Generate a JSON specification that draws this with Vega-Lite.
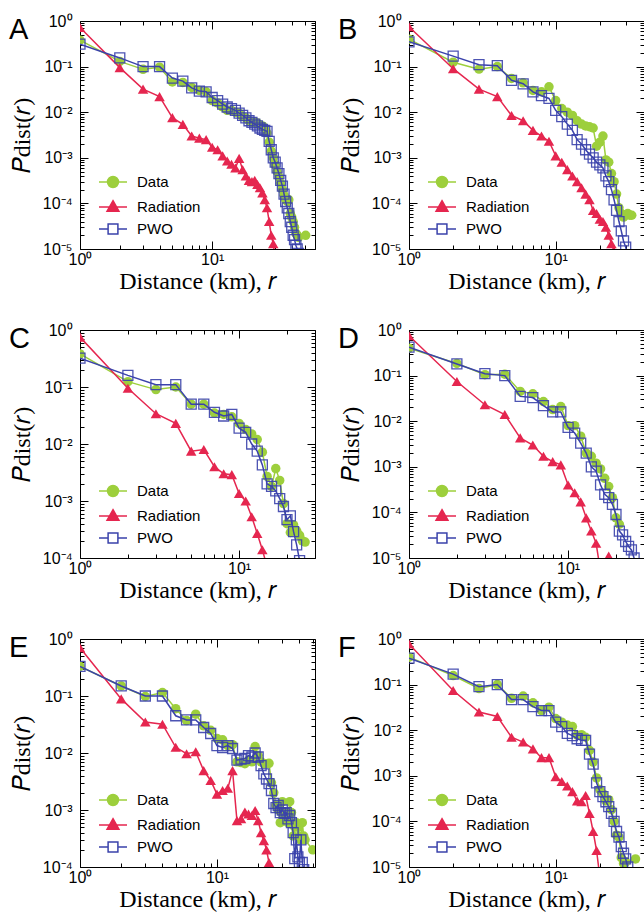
{
"$schema": "https://vega.github.io/schema/vega-lite/v6.json",
"background": "white",
"padding": {"left": 8, "top": 12, "right": 0, "bottom": 0},
"config": {
 "view": {"stroke": "black", "strokeWidth": 1},
 "axis": {"domain": false, "grid": false, "tickColor": "black", "tickWidth": 1, "labelColor": "black", "labelFont": "Liberation Sans", "labelFontSize": 16, "titleFont": "Liberation Serif", "titleFontSize": 24, "titleFontWeight": "normal", "titleColor": "black", "labelOverlap": false, "labelFlush": false, "labelBound": false},
 "title": {"font": "Liberation Sans", "fontSize": 29, "fontWeight": "normal", "color": "black", "anchor": "start", "frame": "group", "dx": -71, "dy": 36, "baseline": "alphabetic"},
 "legend": {"orient": "bottom-left", "title": null, "offset": 12, "padding": 0, "labelFont": "Liberation Sans", "labelFontSize": 15, "labelColor": "black", "symbolSize": 196, "labelOffset": 16, "symbolOffset": 13, "rowPadding": 6, "symbolOpacity": 1}
},
"datasets": {
 "A": [
  {"r":1,"p":0.38,"s":"Data"},{"r":2,"p":0.13,"s":"Data"},{"r":3,"p":0.087,"s":"Data"},{"r":4,"p":0.097,"s":"Data"},{"r":5,"p":0.046,"s":"Data"},{"r":6,"p":0.045,"s":"Data"},{"r":7,"p":0.035,"s":"Data"},{"r":8,"p":0.03,"s":"Data"},{"r":9,"p":0.028,"s":"Data"},{"r":10,"p":0.018,"s":"Data"},{"r":11,"p":0.016,"s":"Data"},{"r":12,"p":0.013,"s":"Data"},{"r":13,"p":0.011,"s":"Data"},{"r":14,"p":0.011,"s":"Data"},{"r":15,"p":0.01,"s":"Data"},{"r":16,"p":0.0095,"s":"Data"},{"r":17,"p":0.008,"s":"Data"},{"r":18,"p":0.0075,"s":"Data"},{"r":19,"p":0.0065,"s":"Data"},{"r":20,"p":0.006,"s":"Data"},{"r":21,"p":0.006,"s":"Data"},{"r":22,"p":0.0058,"s":"Data"},{"r":23,"p":0.0052,"s":"Data"},{"r":24,"p":0.005,"s":"Data"},{"r":25,"p":0.0045,"s":"Data"},{"r":26,"p":0.0035,"s":"Data"},{"r":27,"p":0.0022,"s":"Data"},{"r":28,"p":0.0014,"s":"Data"},{"r":29,"p":0.001,"s":"Data"},{"r":30,"p":0.0007,"s":"Data"},{"r":31,"p":0.0005,"s":"Data"},{"r":32,"p":0.00038,"s":"Data"},{"r":33,"p":0.00028,"s":"Data"},{"r":34,"p":0.0002,"s":"Data"},{"r":35,"p":0.00015,"s":"Data"},{"r":36,"p":0.00012,"s":"Data"},{"r":37,"p":0.00011,"s":"Data"},{"r":38,"p":0.00012,"s":"Data"},{"r":39,"p":0.00006,"s":"Data"},{"r":40,"p":0.00005,"s":"Data"},{"r":41,"p":0.00004,"s":"Data"},{"r":42,"p":0.00003,"s":"Data"},{"r":43,"p":0.000022,"s":"Data"},{"r":44,"p":0.00002,"s":"Data"},{"r":45,"p":0.000018,"s":"Data"},{"r":51,"p":0.00002,"s":"Data"},
  {"r":1,"p":0.72,"s":"Radiation"},{"r":2,"p":0.095,"s":"Radiation"},{"r":3,"p":0.032,"s":"Radiation"},{"r":4,"p":0.022,"s":"Radiation"},{"r":5,"p":0.0076,"s":"Radiation"},{"r":6,"p":0.0054,"s":"Radiation"},{"r":7,"p":0.003,"s":"Radiation"},{"r":8,"p":0.0027,"s":"Radiation"},{"r":9,"p":0.0025,"s":"Radiation"},{"r":10,"p":0.0017,"s":"Radiation"},{"r":11,"p":0.0015,"s":"Radiation"},{"r":12,"p":0.0011,"s":"Radiation"},{"r":13,"p":0.00085,"s":"Radiation"},{"r":14,"p":0.00072,"s":"Radiation"},{"r":15,"p":0.0006,"s":"Radiation"},{"r":16,"p":0.00097,"s":"Radiation"},{"r":17,"p":0.00055,"s":"Radiation"},{"r":18,"p":0.0004,"s":"Radiation"},{"r":19,"p":0.00032,"s":"Radiation"},{"r":20,"p":0.0003,"s":"Radiation"},{"r":21,"p":0.00032,"s":"Radiation"},{"r":22,"p":0.00026,"s":"Radiation"},{"r":23,"p":0.00022,"s":"Radiation"},{"r":24,"p":0.00017,"s":"Radiation"},{"r":25,"p":0.00012,"s":"Radiation"},{"r":26,"p":0.00008,"s":"Radiation"},{"r":27,"p":0.00004,"s":"Radiation"},{"r":28,"p":0.00002,"s":"Radiation"},{"r":29,"p":0.000013,"s":"Radiation"},{"r":30,"p":0.000006,"s":"Radiation"},
  {"r":1,"p":0.31,"s":"PWO"},{"r":2,"p":0.155,"s":"PWO"},{"r":3,"p":0.1,"s":"PWO"},{"r":4,"p":0.1,"s":"PWO"},{"r":5,"p":0.056,"s":"PWO"},{"r":6,"p":0.048,"s":"PWO"},{"r":7,"p":0.034,"s":"PWO"},{"r":8,"p":0.029,"s":"PWO"},{"r":9,"p":0.028,"s":"PWO"},{"r":10,"p":0.021,"s":"PWO"},{"r":11,"p":0.018,"s":"PWO"},{"r":12,"p":0.015,"s":"PWO"},{"r":13,"p":0.013,"s":"PWO"},{"r":14,"p":0.012,"s":"PWO"},{"r":15,"p":0.011,"s":"PWO"},{"r":16,"p":0.0095,"s":"PWO"},{"r":17,"p":0.0085,"s":"PWO"},{"r":18,"p":0.0075,"s":"PWO"},{"r":19,"p":0.0065,"s":"PWO"},{"r":20,"p":0.006,"s":"PWO"},{"r":21,"p":0.0055,"s":"PWO"},{"r":22,"p":0.005,"s":"PWO"},{"r":23,"p":0.0045,"s":"PWO"},{"r":24,"p":0.0042,"s":"PWO"},{"r":25,"p":0.004,"s":"PWO"},{"r":26,"p":0.0038,"s":"PWO"},{"r":27,"p":0.0023,"s":"PWO"},{"r":28,"p":0.0015,"s":"PWO"},{"r":29,"p":0.001,"s":"PWO"},{"r":30,"p":0.0008,"s":"PWO"},{"r":31,"p":0.0006,"s":"PWO"},{"r":32,"p":0.00045,"s":"PWO"},{"r":33,"p":0.00032,"s":"PWO"},{"r":34,"p":0.00024,"s":"PWO"},{"r":35,"p":0.00016,"s":"PWO"},{"r":36,"p":0.00011,"s":"PWO"},{"r":37,"p":0.00008,"s":"PWO"},{"r":38,"p":0.00006,"s":"PWO"},{"r":39,"p":0.00004,"s":"PWO"},{"r":40,"p":0.00003,"s":"PWO"},{"r":41,"p":0.00002,"s":"PWO"},{"r":42,"p":0.000016,"s":"PWO"},{"r":43,"p":0.000012,"s":"PWO"},{"r":44,"p":0.00001,"s":"PWO"},{"r":45,"p":0.000008,"s":"PWO"}
 ],
 "B": [
  {"r":1,"p":0.4,"s":"Data"},{"r":2,"p":0.125,"s":"Data"},{"r":3,"p":0.088,"s":"Data"},{"r":4,"p":0.1,"s":"Data"},{"r":5,"p":0.055,"s":"Data"},{"r":6,"p":0.044,"s":"Data"},{"r":7,"p":0.03,"s":"Data"},{"r":8,"p":0.028,"s":"Data"},{"r":9,"p":0.036,"s":"Data"},{"r":10,"p":0.018,"s":"Data"},{"r":11,"p":0.012,"s":"Data"},{"r":12,"p":0.01,"s":"Data"},{"r":13,"p":0.0085,"s":"Data"},{"r":14,"p":0.0065,"s":"Data"},{"r":15,"p":0.0055,"s":"Data"},{"r":16,"p":0.005,"s":"Data"},{"r":17,"p":0.0048,"s":"Data"},{"r":18,"p":0.0045,"s":"Data"},{"r":19,"p":0.0018,"s":"Data"},{"r":20,"p":0.0022,"s":"Data"},{"r":21,"p":0.003,"s":"Data"},{"r":22,"p":0.0009,"s":"Data"},{"r":23,"p":0.0008,"s":"Data"},{"r":24,"p":0.00045,"s":"Data"},{"r":25,"p":0.0003,"s":"Data"},{"r":26,"p":0.00016,"s":"Data"},{"r":27,"p":0.00008,"s":"Data"},{"r":28,"p":0.00006,"s":"Data"},{"r":29,"p":0.00005,"s":"Data"},{"r":30,"p":0.000055,"s":"Data"},{"r":31,"p":0.00006,"s":"Data"},{"r":32,"p":0.000055,"s":"Data"},{"r":33,"p":0.000055,"s":"Data"},
  {"r":1,"p":0.75,"s":"Radiation"},{"r":2,"p":0.09,"s":"Radiation"},{"r":3,"p":0.032,"s":"Radiation"},{"r":4,"p":0.022,"s":"Radiation"},{"r":5,"p":0.0085,"s":"Radiation"},{"r":6,"p":0.0065,"s":"Radiation"},{"r":7,"p":0.004,"s":"Radiation"},{"r":8,"p":0.003,"s":"Radiation"},{"r":9,"p":0.0023,"s":"Radiation"},{"r":10,"p":0.0011,"s":"Radiation"},{"r":11,"p":0.0008,"s":"Radiation"},{"r":12,"p":0.00055,"s":"Radiation"},{"r":13,"p":0.0004,"s":"Radiation"},{"r":14,"p":0.0003,"s":"Radiation"},{"r":15,"p":0.00022,"s":"Radiation"},{"r":16,"p":0.00016,"s":"Radiation"},{"r":17,"p":0.00012,"s":"Radiation"},{"r":18,"p":0.00007,"s":"Radiation"},{"r":19,"p":0.00006,"s":"Radiation"},{"r":20,"p":0.000045,"s":"Radiation"},{"r":21,"p":0.00004,"s":"Radiation"},{"r":22,"p":0.00003,"s":"Radiation"},{"r":23,"p":0.00002,"s":"Radiation"},{"r":24,"p":0.000013,"s":"Radiation"},{"r":25,"p":0.000009,"s":"Radiation"},
  {"r":1,"p":0.35,"s":"PWO"},{"r":2,"p":0.17,"s":"PWO"},{"r":3,"p":0.11,"s":"PWO"},{"r":4,"p":0.105,"s":"PWO"},{"r":5,"p":0.05,"s":"PWO"},{"r":6,"p":0.042,"s":"PWO"},{"r":7,"p":0.028,"s":"PWO"},{"r":8,"p":0.023,"s":"PWO"},{"r":9,"p":0.02,"s":"PWO"},{"r":10,"p":0.011,"s":"PWO"},{"r":11,"p":0.008,"s":"PWO"},{"r":12,"p":0.0055,"s":"PWO"},{"r":13,"p":0.004,"s":"PWO"},{"r":14,"p":0.0025,"s":"PWO"},{"r":15,"p":0.002,"s":"PWO"},{"r":16,"p":0.0015,"s":"PWO"},{"r":17,"p":0.0012,"s":"PWO"},{"r":18,"p":0.001,"s":"PWO"},{"r":19,"p":0.0008,"s":"PWO"},{"r":20,"p":0.0007,"s":"PWO"},{"r":21,"p":0.0006,"s":"PWO"},{"r":22,"p":0.0004,"s":"PWO"},{"r":23,"p":0.0003,"s":"PWO"},{"r":24,"p":0.0002,"s":"PWO"},{"r":25,"p":0.00012,"s":"PWO"},{"r":26,"p":0.00007,"s":"PWO"},{"r":27,"p":0.00004,"s":"PWO"},{"r":28,"p":0.000025,"s":"PWO"},{"r":29,"p":0.000015,"s":"PWO"},{"r":30,"p":0.000011,"s":"PWO"},{"r":31,"p":0.000007,"s":"PWO"}
 ],
 "C": [
  {"r":1,"p":0.38,"s":"Data"},{"r":2,"p":0.124,"s":"Data"},{"r":3,"p":0.09,"s":"Data"},{"r":4,"p":0.1,"s":"Data"},{"r":5,"p":0.05,"s":"Data"},{"r":6,"p":0.05,"s":"Data"},{"r":7,"p":0.035,"s":"Data"},{"r":8,"p":0.033,"s":"Data"},{"r":9,"p":0.03,"s":"Data"},{"r":10,"p":0.023,"s":"Data"},{"r":11,"p":0.018,"s":"Data"},{"r":12,"p":0.015,"s":"Data"},{"r":13,"p":0.012,"s":"Data"},{"r":14,"p":0.0072,"s":"Data"},{"r":15,"p":0.0027,"s":"Data"},{"r":16,"p":0.0018,"s":"Data"},{"r":17,"p":0.0037,"s":"Data"},{"r":18,"p":0.0023,"s":"Data"},{"r":19,"p":0.0009,"s":"Data"},{"r":20,"p":0.0004,"s":"Data"},{"r":21,"p":0.00028,"s":"Data"},{"r":22,"p":0.00038,"s":"Data"},{"r":23,"p":0.0003,"s":"Data"},{"r":24,"p":0.00025,"s":"Data"},{"r":25,"p":0.0002,"s":"Data"},{"r":26,"p":0.00019,"s":"Data"},
  {"r":1,"p":0.75,"s":"Radiation"},{"r":2,"p":0.095,"s":"Radiation"},{"r":3,"p":0.034,"s":"Radiation"},{"r":4,"p":0.023,"s":"Radiation"},{"r":5,"p":0.0075,"s":"Radiation"},{"r":6,"p":0.008,"s":"Radiation"},{"r":7,"p":0.004,"s":"Radiation"},{"r":8,"p":0.003,"s":"Radiation"},{"r":9,"p":0.0029,"s":"Radiation"},{"r":10,"p":0.00135,"s":"Radiation"},{"r":11,"p":0.001,"s":"Radiation"},{"r":12,"p":0.00053,"s":"Radiation"},{"r":13,"p":0.00027,"s":"Radiation"},{"r":14,"p":0.00014,"s":"Radiation"},{"r":15,"p":0.00007,"s":"Radiation"},
  {"r":1,"p":0.32,"s":"PWO"},{"r":2,"p":0.16,"s":"PWO"},{"r":3,"p":0.11,"s":"PWO"},{"r":4,"p":0.11,"s":"PWO"},{"r":5,"p":0.05,"s":"PWO"},{"r":6,"p":0.05,"s":"PWO"},{"r":7,"p":0.036,"s":"PWO"},{"r":8,"p":0.031,"s":"PWO"},{"r":9,"p":0.033,"s":"PWO"},{"r":10,"p":0.019,"s":"PWO"},{"r":11,"p":0.016,"s":"PWO"},{"r":12,"p":0.01,"s":"PWO"},{"r":13,"p":0.0075,"s":"PWO"},{"r":14,"p":0.0043,"s":"PWO"},{"r":15,"p":0.002,"s":"PWO"},{"r":16,"p":0.0018,"s":"PWO"},{"r":17,"p":0.0015,"s":"PWO"},{"r":18,"p":0.0011,"s":"PWO"},{"r":19,"p":0.0008,"s":"PWO"},{"r":20,"p":0.00047,"s":"PWO"},{"r":21,"p":0.00055,"s":"PWO"},{"r":22,"p":0.00029,"s":"PWO"},{"r":23,"p":0.00017,"s":"PWO"},{"r":24,"p":0.00009,"s":"PWO"}
 ],
 "D": [
  {"r":1,"p":0.4,"s":"Data"},{"r":2,"p":0.185,"s":"Data"},{"r":3,"p":0.105,"s":"Data"},{"r":4,"p":0.107,"s":"Data"},{"r":5,"p":0.045,"s":"Data"},{"r":6,"p":0.04,"s":"Data"},{"r":7,"p":0.027,"s":"Data"},{"r":8,"p":0.018,"s":"Data"},{"r":9,"p":0.021,"s":"Data"},{"r":10,"p":0.008,"s":"Data"},{"r":11,"p":0.008,"s":"Data"},{"r":12,"p":0.0047,"s":"Data"},{"r":13,"p":0.002,"s":"Data"},{"r":14,"p":0.0017,"s":"Data"},{"r":15,"p":0.0012,"s":"Data"},{"r":16,"p":0.0009,"s":"Data"},{"r":17,"p":0.00056,"s":"Data"},{"r":18,"p":0.00037,"s":"Data"},{"r":19,"p":0.00021,"s":"Data"},{"r":20,"p":0.000076,"s":"Data"},{"r":21,"p":0.000055,"s":"Data"},
  {"r":1,"p":0.75,"s":"Radiation"},{"r":2,"p":0.074,"s":"Radiation"},{"r":3,"p":0.023,"s":"Radiation"},{"r":4,"p":0.014,"s":"Radiation"},{"r":5,"p":0.0043,"s":"Radiation"},{"r":6,"p":0.003,"s":"Radiation"},{"r":7,"p":0.0017,"s":"Radiation"},{"r":8,"p":0.0013,"s":"Radiation"},{"r":9,"p":0.0011,"s":"Radiation"},{"r":10,"p":0.0004,"s":"Radiation"},{"r":11,"p":0.00027,"s":"Radiation"},{"r":12,"p":0.00017,"s":"Radiation"},{"r":13,"p":0.000076,"s":"Radiation"},{"r":14,"p":0.000039,"s":"Radiation"},{"r":15,"p":0.000021,"s":"Radiation"},{"r":16,"p":0.000005,"s":"Radiation"},{"r":18,"p":0.000011,"s":"Radiation"},
  {"r":1,"p":0.42,"s":"PWO"},{"r":2,"p":0.18,"s":"PWO"},{"r":3,"p":0.11,"s":"PWO"},{"r":4,"p":0.1,"s":"PWO"},{"r":5,"p":0.035,"s":"PWO"},{"r":6,"p":0.033,"s":"PWO"},{"r":7,"p":0.022,"s":"PWO"},{"r":8,"p":0.016,"s":"PWO"},{"r":9,"p":0.016,"s":"PWO"},{"r":10,"p":0.0073,"s":"PWO"},{"r":11,"p":0.0055,"s":"PWO"},{"r":12,"p":0.0033,"s":"PWO"},{"r":13,"p":0.002,"s":"PWO"},{"r":14,"p":0.001,"s":"PWO"},{"r":15,"p":0.0008,"s":"PWO"},{"r":16,"p":0.0004,"s":"PWO"},{"r":17,"p":0.00025,"s":"PWO"},{"r":18,"p":0.00021,"s":"PWO"},{"r":19,"p":0.00015,"s":"PWO"},{"r":20,"p":0.00009,"s":"PWO"},{"r":21,"p":0.000039,"s":"PWO"},{"r":22,"p":0.000032,"s":"PWO"},{"r":23,"p":0.000023,"s":"PWO"},{"r":24,"p":0.000018,"s":"PWO"},{"r":25,"p":0.000015,"s":"PWO"},{"r":26,"p":0.00001,"s":"PWO"}
 ],
 "E": [
  {"r":1,"p":0.33,"s":"Data"},{"r":2,"p":0.15,"s":"Data"},{"r":3,"p":0.098,"s":"Data"},{"r":4,"p":0.115,"s":"Data"},{"r":5,"p":0.06,"s":"Data"},{"r":6,"p":0.037,"s":"Data"},{"r":7,"p":0.048,"s":"Data"},{"r":8,"p":0.03,"s":"Data"},{"r":9,"p":0.025,"s":"Data"},{"r":10,"p":0.018,"s":"Data"},{"r":11,"p":0.017,"s":"Data"},{"r":12,"p":0.0135,"s":"Data"},{"r":13,"p":0.014,"s":"Data"},{"r":14,"p":0.007,"s":"Data"},{"r":15,"p":0.0068,"s":"Data"},{"r":16,"p":0.0065,"s":"Data"},{"r":17,"p":0.0075,"s":"Data"},{"r":18,"p":0.007,"s":"Data"},{"r":19,"p":0.013,"s":"Data"},{"r":20,"p":0.009,"s":"Data"},{"r":21,"p":0.007,"s":"Data"},{"r":22,"p":0.0065,"s":"Data"},{"r":23,"p":0.0065,"s":"Data"},{"r":24,"p":0.0066,"s":"Data"},{"r":25,"p":0.003,"s":"Data"},{"r":26,"p":0.002,"s":"Data"},{"r":27,"p":0.0012,"s":"Data"},{"r":28,"p":0.001,"s":"Data"},{"r":29,"p":0.0006,"s":"Data"},{"r":30,"p":0.0014,"s":"Data"},{"r":31,"p":0.0009,"s":"Data"},{"r":32,"p":0.0008,"s":"Data"},{"r":33,"p":0.0006,"s":"Data"},{"r":34,"p":0.0014,"s":"Data"},{"r":35,"p":0.0009,"s":"Data"},{"r":36,"p":0.00035,"s":"Data"},{"r":37,"p":0.0005,"s":"Data"},{"r":38,"p":0.0006,"s":"Data"},{"r":39,"p":0.0005,"s":"Data"},{"r":40,"p":0.00035,"s":"Data"},{"r":41,"p":0.0003,"s":"Data"},{"r":42,"p":0.0006,"s":"Data"},{"r":43,"p":0.00035,"s":"Data"},{"r":44,"p":0.0003,"s":"Data"},{"r":50,"p":0.0002,"s":"Data"},
  {"r":1,"p":0.7,"s":"Radiation"},{"r":2,"p":0.089,"s":"Radiation"},{"r":3,"p":0.035,"s":"Radiation"},{"r":4,"p":0.032,"s":"Radiation"},{"r":5,"p":0.0126,"s":"Radiation"},{"r":6,"p":0.0097,"s":"Radiation"},{"r":7,"p":0.0105,"s":"Radiation"},{"r":8,"p":0.0049,"s":"Radiation"},{"r":9,"p":0.0033,"s":"Radiation"},{"r":10,"p":0.0019,"s":"Radiation"},{"r":11,"p":0.0022,"s":"Radiation"},{"r":12,"p":0.0024,"s":"Radiation"},{"r":13,"p":0.0049,"s":"Radiation"},{"r":14,"p":0.00065,"s":"Radiation"},{"r":15,"p":0.0007,"s":"Radiation"},{"r":16,"p":0.00092,"s":"Radiation"},{"r":17,"p":0.00085,"s":"Radiation"},{"r":18,"p":0.0008,"s":"Radiation"},{"r":19,"p":0.00098,"s":"Radiation"},{"r":20,"p":0.00065,"s":"Radiation"},{"r":21,"p":0.0004,"s":"Radiation"},{"r":22,"p":0.00029,"s":"Radiation"},{"r":23,"p":0.0002,"s":"Radiation"},{"r":24,"p":0.00012,"s":"Radiation"},{"r":25,"p":0.00008,"s":"Radiation"},
  {"r":1,"p":0.33,"s":"PWO"},{"r":2,"p":0.15,"s":"PWO"},{"r":3,"p":0.1,"s":"PWO"},{"r":4,"p":0.1,"s":"PWO"},{"r":5,"p":0.045,"s":"PWO"},{"r":6,"p":0.038,"s":"PWO"},{"r":7,"p":0.038,"s":"PWO"},{"r":8,"p":0.028,"s":"PWO"},{"r":9,"p":0.022,"s":"PWO"},{"r":10,"p":0.0135,"s":"PWO"},{"r":11,"p":0.0125,"s":"PWO"},{"r":12,"p":0.0135,"s":"PWO"},{"r":13,"p":0.012,"s":"PWO"},{"r":14,"p":0.0075,"s":"PWO"},{"r":15,"p":0.0078,"s":"PWO"},{"r":16,"p":0.008,"s":"PWO"},{"r":17,"p":0.009,"s":"PWO"},{"r":18,"p":0.0085,"s":"PWO"},{"r":19,"p":0.01,"s":"PWO"},{"r":20,"p":0.0085,"s":"PWO"},{"r":21,"p":0.006,"s":"PWO"},{"r":22,"p":0.0043,"s":"PWO"},{"r":23,"p":0.0035,"s":"PWO"},{"r":24,"p":0.0029,"s":"PWO"},{"r":25,"p":0.0022,"s":"PWO"},{"r":26,"p":0.0013,"s":"PWO"},{"r":27,"p":0.0011,"s":"PWO"},{"r":28,"p":0.0012,"s":"PWO"},{"r":29,"p":0.0009,"s":"PWO"},{"r":30,"p":0.001,"s":"PWO"},{"r":31,"p":0.00087,"s":"PWO"},{"r":32,"p":0.0009,"s":"PWO"},{"r":33,"p":0.0007,"s":"PWO"},{"r":34,"p":0.0008,"s":"PWO"},{"r":35,"p":0.0006,"s":"PWO"},{"r":36,"p":0.0004,"s":"PWO"},{"r":37,"p":0.00014,"s":"PWO"},{"r":38,"p":0.0003,"s":"PWO"},{"r":39,"p":0.00015,"s":"PWO"},{"r":40,"p":0.00012,"s":"PWO"},{"r":41,"p":0.0003,"s":"PWO"},{"r":42,"p":0.00012,"s":"PWO"},{"r":43,"p":0.00009,"s":"PWO"}
 ],
 "F": [
  {"r":1,"p":0.4,"s":"Data"},{"r":2,"p":0.158,"s":"Data"},{"r":3,"p":0.082,"s":"Data"},{"r":4,"p":0.1,"s":"Data"},{"r":5,"p":0.05,"s":"Data"},{"r":6,"p":0.056,"s":"Data"},{"r":7,"p":0.04,"s":"Data"},{"r":8,"p":0.027,"s":"Data"},{"r":9,"p":0.032,"s":"Data"},{"r":10,"p":0.018,"s":"Data"},{"r":11,"p":0.015,"s":"Data"},{"r":12,"p":0.013,"s":"Data"},{"r":13,"p":0.012,"s":"Data"},{"r":14,"p":0.0078,"s":"Data"},{"r":15,"p":0.008,"s":"Data"},{"r":16,"p":0.007,"s":"Data"},{"r":17,"p":0.0036,"s":"Data"},{"r":18,"p":0.002,"s":"Data"},{"r":19,"p":0.0009,"s":"Data"},{"r":20,"p":0.0005,"s":"Data"},{"r":21,"p":0.0004,"s":"Data"},{"r":22,"p":0.00028,"s":"Data"},{"r":23,"p":0.0003,"s":"Data"},{"r":24,"p":0.00018,"s":"Data"},{"r":25,"p":0.0001,"s":"Data"},{"r":26,"p":0.00005,"s":"Data"},{"r":27,"p":0.000045,"s":"Data"},{"r":28,"p":0.000016,"s":"Data"},{"r":29,"p":0.000012,"s":"Data"},{"r":30,"p":0.000013,"s":"Data"},{"r":35,"p":0.000015,"s":"Data"},
  {"r":1,"p":0.78,"s":"Radiation"},{"r":2,"p":0.074,"s":"Radiation"},{"r":3,"p":0.025,"s":"Radiation"},{"r":4,"p":0.02,"s":"Radiation"},{"r":5,"p":0.007,"s":"Radiation"},{"r":6,"p":0.0055,"s":"Radiation"},{"r":7,"p":0.0039,"s":"Radiation"},{"r":8,"p":0.0025,"s":"Radiation"},{"r":9,"p":0.0025,"s":"Radiation"},{"r":10,"p":0.00095,"s":"Radiation"},{"r":11,"p":0.00075,"s":"Radiation"},{"r":12,"p":0.0006,"s":"Radiation"},{"r":13,"p":0.00045,"s":"Radiation"},{"r":14,"p":0.00028,"s":"Radiation"},{"r":15,"p":0.00027,"s":"Radiation"},{"r":16,"p":0.00037,"s":"Radiation"},{"r":17,"p":0.00015,"s":"Radiation"},{"r":18,"p":0.00006,"s":"Radiation"},{"r":19,"p":0.000023,"s":"Radiation"},{"r":20,"p":0.000006,"s":"Radiation"},
  {"r":1,"p":0.38,"s":"PWO"},{"r":2,"p":0.17,"s":"PWO"},{"r":3,"p":0.09,"s":"PWO"},{"r":4,"p":0.1,"s":"PWO"},{"r":5,"p":0.047,"s":"PWO"},{"r":6,"p":0.047,"s":"PWO"},{"r":7,"p":0.033,"s":"PWO"},{"r":8,"p":0.027,"s":"PWO"},{"r":9,"p":0.027,"s":"PWO"},{"r":10,"p":0.015,"s":"PWO"},{"r":11,"p":0.012,"s":"PWO"},{"r":12,"p":0.0085,"s":"PWO"},{"r":13,"p":0.0076,"s":"PWO"},{"r":14,"p":0.0065,"s":"PWO"},{"r":15,"p":0.006,"s":"PWO"},{"r":16,"p":0.006,"s":"PWO"},{"r":17,"p":0.003,"s":"PWO"},{"r":18,"p":0.0018,"s":"PWO"},{"r":19,"p":0.0007,"s":"PWO"},{"r":20,"p":0.00045,"s":"PWO"},{"r":21,"p":0.00035,"s":"PWO"},{"r":22,"p":0.00027,"s":"PWO"},{"r":23,"p":0.00021,"s":"PWO"},{"r":24,"p":0.00015,"s":"PWO"},{"r":25,"p":0.0001,"s":"PWO"},{"r":26,"p":0.00006,"s":"PWO"},{"r":27,"p":0.000045,"s":"PWO"},{"r":28,"p":0.000028,"s":"PWO"},{"r":29,"p":0.00002,"s":"PWO"},{"r":30,"p":0.000015,"s":"PWO"},{"r":31,"p":0.00001,"s":"PWO"}
 ]
},
"spacing": 27,
"bounds": "full",
"resolve": {"scale": {"color": "independent", "x": "independent", "y": "independent"}, "legend": {"color": "independent"}},
"vconcat": [
 {"hconcat": [
  {"width": 235, "height": 228, "data": {"name": "A"}, "title": {"text": "A"},
   "encoding": {
    "x": {"field": "r", "type": "quantitative", "scale": {"type": "log", "domain": [1, 60], "nice": false}, "axis": null},
    "y": {"field": "p", "type": "quantitative", "scale": {"type": "log", "domain": [0.00001, 1], "nice": false}, "axis": null},
    "color": {"field": "s", "type": "nominal", "scale": {"domain": ["Data", "Radiation", "PWO"], "range": ["#9dcf3c", "#e5264f", "#3a42ab"]},
     "legend": {"encode": {"symbols": {"update": {
       "shape": {"signal": "datum.value=='Data' ? 'M-2,0L2,0M0.78,0A0.78,0.78,0,1,1,-0.78,0A0.78,0.78,0,1,1,0.78,0Z' : datum.value=='Radiation' ? 'M-2,0L2,0M0,-0.9L0.85,0.6L-0.85,0.6Z' : 'M-2,0L-0.7,0M0.7,0L2,0M-0.7,-0.7L0.7,-0.7L0.7,0.7L-0.7,0.7Z'"},
       "fill": {"signal": "datum.value=='Data' ? '#9dcf3c' : datum.value=='Radiation' ? '#e5264f' : 'white'"},
       "fillOpacity": {"signal": "datum.value=='PWO' ? 0 : 1"},
       "stroke": {"signal": "datum.value=='Data' ? '#9dcf3c' : datum.value=='Radiation' ? '#e5264f' : '#3a42ab'"},
       "strokeWidth": {"value": 1.5}, "opacity": {"value": 1}}}}}}
   },
   "resolve": {"axis": {"x": "independent", "y": "independent"}},
   "layer": [
    {"transform": [{"filter": "datum.s=='Data'"}], "mark": {"type": "line", "clip": true, "strokeWidth": 1.5},
     "encoding": {
      "x": {"field": "r", "type": "quantitative", "scale": {"type": "log", "domain": [1, 60], "nice": false}, "axis": {"orient": "bottom", "values": [1,2,3,4,5,6,7,8,9,10,20,30,40,50,60], "labelExpr": "datum.value==1?'10⁰':datum.value==10?'10¹':''", "tickSize": {"condition": {"test": "datum.value==1||datum.value==10", "value": -8}, "value": -4}, "labelPadding": 10, "title": "Distance (km), 𝑟", "titlePadding": -2}},
      "y": {"field": "p", "type": "quantitative", "scale": {"type": "log", "domain": [0.00001, 1], "nice": false}, "axis": {"orient": "left", "values": [0.00001,0.00002,0.00003,0.00004,0.00005,0.00006,0.00007,0.00008,0.00009,0.0001,0.0002,0.0003,0.0004,0.0005,0.0006,0.0007,0.0008,0.0009,0.001,0.002,0.003,0.004,0.005,0.006,0.007,0.008,0.009,0.01,0.02,0.03,0.04,0.05,0.06,0.07,0.08,0.09,0.1,0.2,0.3,0.4,0.5,0.6,0.7,0.8,0.9,1], "labelExpr": "datum.value==1?'10⁰':datum.value==0.1?'10⁻¹':datum.value==0.01?'10⁻²':datum.value==0.001?'10⁻³':datum.value==0.0001?'10⁻⁴':datum.value==0.00001?'10⁻⁵':''", "tickSize": {"condition": {"test": "datum.value==1||datum.value==0.1||datum.value==0.01||datum.value==0.001||datum.value==0.0001||datum.value==0.00001", "value": -8}, "value": -4}, "labelPadding": 16, "title": "𝑃dist(𝑟)", "titlePadding": 8}}
     }},
    {"transform": [{"filter": "datum.s=='Data'"}], "mark": {"type": "point", "clip": true, "filled": true, "shape": "circle", "size": 90, "opacity": 1},
     "encoding": {
      "x": {"field": "r", "type": "quantitative", "scale": {"type": "log", "domain": [1, 60], "nice": false}, "axis": {"orient": "top", "values": [1,2,3,4,5,6,7,8,9,10,20,30,40,50,60], "labels": false, "title": null, "tickSize": {"condition": {"test": "datum.value==1||datum.value==10", "value": -8}, "value": -4}}},
      "y": {"field": "p", "type": "quantitative", "scale": {"type": "log", "domain": [0.00001, 1], "nice": false}, "axis": {"orient": "right", "values": [0.00001,0.00002,0.00003,0.00004,0.00005,0.00006,0.00007,0.00008,0.00009,0.0001,0.0002,0.0003,0.0004,0.0005,0.0006,0.0007,0.0008,0.0009,0.001,0.002,0.003,0.004,0.005,0.006,0.007,0.008,0.009,0.01,0.02,0.03,0.04,0.05,0.06,0.07,0.08,0.09,0.1,0.2,0.3,0.4,0.5,0.6,0.7,0.8,0.9,1], "labels": false, "title": null, "tickSize": {"condition": {"test": "datum.value==1||datum.value==0.1||datum.value==0.01||datum.value==0.001||datum.value==0.0001||datum.value==0.00001", "value": -8}, "value": -4}}}
     }},
    {"transform": [{"filter": "datum.s=='Radiation'"}], "mark": {"type": "line", "clip": true, "strokeWidth": 1.5}},
    {"transform": [{"filter": "datum.s=='Radiation'"}], "mark": {"type": "point", "clip": true, "filled": true, "shape": "triangle-up", "size": 110, "opacity": 1}},
    {"transform": [{"filter": "datum.s=='PWO'"}], "mark": {"type": "line", "clip": true, "strokeWidth": 1.5}},
    {"transform": [{"filter": "datum.s=='PWO'"}], "mark": {"type": "point", "clip": true, "filled": false, "shape": "square", "size": 100, "opacity": 0.9, "strokeWidth": 1.3}}
   ]
  },
  {"width": 235, "height": 228, "data": {"name": "B"}, "title": {"text": "B"},
   "encoding": {
    "x": {"field": "r", "type": "quantitative", "scale": {"type": "log", "domain": [1, 40], "nice": false}, "axis": null},
    "y": {"field": "p", "type": "quantitative", "scale": {"type": "log", "domain": [0.00001, 1], "nice": false}, "axis": null},
    "color": {"field": "s", "type": "nominal", "scale": {"domain": ["Data", "Radiation", "PWO"], "range": ["#9dcf3c", "#e5264f", "#3a42ab"]},
     "legend": {"encode": {"symbols": {"update": {
       "shape": {"signal": "datum.value=='Data' ? 'M-2,0L2,0M0.78,0A0.78,0.78,0,1,1,-0.78,0A0.78,0.78,0,1,1,0.78,0Z' : datum.value=='Radiation' ? 'M-2,0L2,0M0,-0.9L0.85,0.6L-0.85,0.6Z' : 'M-2,0L-0.7,0M0.7,0L2,0M-0.7,-0.7L0.7,-0.7L0.7,0.7L-0.7,0.7Z'"},
       "fill": {"signal": "datum.value=='Data' ? '#9dcf3c' : datum.value=='Radiation' ? '#e5264f' : 'white'"},
       "fillOpacity": {"signal": "datum.value=='PWO' ? 0 : 1"},
       "stroke": {"signal": "datum.value=='Data' ? '#9dcf3c' : datum.value=='Radiation' ? '#e5264f' : '#3a42ab'"},
       "strokeWidth": {"value": 1.5}, "opacity": {"value": 1}}}}}}
   },
   "resolve": {"axis": {"x": "independent", "y": "independent"}},
   "layer": [
    {"transform": [{"filter": "datum.s=='Data'"}], "mark": {"type": "line", "clip": true, "strokeWidth": 1.5},
     "encoding": {
      "x": {"field": "r", "type": "quantitative", "scale": {"type": "log", "domain": [1, 40], "nice": false}, "axis": {"orient": "bottom", "values": [1,2,3,4,5,6,7,8,9,10,20,30,40], "labelExpr": "datum.value==1?'10⁰':datum.value==10?'10¹':''", "tickSize": {"condition": {"test": "datum.value==1||datum.value==10", "value": -8}, "value": -4}, "labelPadding": 10, "title": "Distance (km), 𝑟", "titlePadding": -2}},
      "y": {"field": "p", "type": "quantitative", "scale": {"type": "log", "domain": [0.00001, 1], "nice": false}, "axis": {"orient": "left", "values": [0.00001,0.00002,0.00003,0.00004,0.00005,0.00006,0.00007,0.00008,0.00009,0.0001,0.0002,0.0003,0.0004,0.0005,0.0006,0.0007,0.0008,0.0009,0.001,0.002,0.003,0.004,0.005,0.006,0.007,0.008,0.009,0.01,0.02,0.03,0.04,0.05,0.06,0.07,0.08,0.09,0.1,0.2,0.3,0.4,0.5,0.6,0.7,0.8,0.9,1], "labelExpr": "datum.value==1?'10⁰':datum.value==0.1?'10⁻¹':datum.value==0.01?'10⁻²':datum.value==0.001?'10⁻³':datum.value==0.0001?'10⁻⁴':datum.value==0.00001?'10⁻⁵':''", "tickSize": {"condition": {"test": "datum.value==1||datum.value==0.1||datum.value==0.01||datum.value==0.001||datum.value==0.0001||datum.value==0.00001", "value": -8}, "value": -4}, "labelPadding": 16, "title": "𝑃dist(𝑟)", "titlePadding": 8}}
     }},
    {"transform": [{"filter": "datum.s=='Data'"}], "mark": {"type": "point", "clip": true, "filled": true, "shape": "circle", "size": 90, "opacity": 1},
     "encoding": {
      "x": {"field": "r", "type": "quantitative", "scale": {"type": "log", "domain": [1, 40], "nice": false}, "axis": {"orient": "top", "values": [1,2,3,4,5,6,7,8,9,10,20,30,40], "labels": false, "title": null, "tickSize": {"condition": {"test": "datum.value==1||datum.value==10", "value": -8}, "value": -4}}},
      "y": {"field": "p", "type": "quantitative", "scale": {"type": "log", "domain": [0.00001, 1], "nice": false}, "axis": {"orient": "right", "values": [0.00001,0.00002,0.00003,0.00004,0.00005,0.00006,0.00007,0.00008,0.00009,0.0001,0.0002,0.0003,0.0004,0.0005,0.0006,0.0007,0.0008,0.0009,0.001,0.002,0.003,0.004,0.005,0.006,0.007,0.008,0.009,0.01,0.02,0.03,0.04,0.05,0.06,0.07,0.08,0.09,0.1,0.2,0.3,0.4,0.5,0.6,0.7,0.8,0.9,1], "labels": false, "title": null, "tickSize": {"condition": {"test": "datum.value==1||datum.value==0.1||datum.value==0.01||datum.value==0.001||datum.value==0.0001||datum.value==0.00001", "value": -8}, "value": -4}}}
     }},
    {"transform": [{"filter": "datum.s=='Radiation'"}], "mark": {"type": "line", "clip": true, "strokeWidth": 1.5}},
    {"transform": [{"filter": "datum.s=='Radiation'"}], "mark": {"type": "point", "clip": true, "filled": true, "shape": "triangle-up", "size": 110, "opacity": 1}},
    {"transform": [{"filter": "datum.s=='PWO'"}], "mark": {"type": "line", "clip": true, "strokeWidth": 1.5}},
    {"transform": [{"filter": "datum.s=='PWO'"}], "mark": {"type": "point", "clip": true, "filled": false, "shape": "square", "size": 100, "opacity": 0.9, "strokeWidth": 1.3}}
   ]
  }
 ], "spacing": 94, "bounds": "flush", "resolve": {"scale": {"color": "independent", "x": "independent", "y": "independent"}, "legend": {"color": "independent"}}},
 {"hconcat": [
  {"width": 235, "height": 228, "data": {"name": "C"}, "title": {"text": "C"},
   "encoding": {
    "x": {"field": "r", "type": "quantitative", "scale": {"type": "log", "domain": [1, 30], "nice": false}, "axis": null},
    "y": {"field": "p", "type": "quantitative", "scale": {"type": "log", "domain": [0.0001, 1], "nice": false}, "axis": null},
    "color": {"field": "s", "type": "nominal", "scale": {"domain": ["Data", "Radiation", "PWO"], "range": ["#9dcf3c", "#e5264f", "#3a42ab"]},
     "legend": {"encode": {"symbols": {"update": {
       "shape": {"signal": "datum.value=='Data' ? 'M-2,0L2,0M0.78,0A0.78,0.78,0,1,1,-0.78,0A0.78,0.78,0,1,1,0.78,0Z' : datum.value=='Radiation' ? 'M-2,0L2,0M0,-0.9L0.85,0.6L-0.85,0.6Z' : 'M-2,0L-0.7,0M0.7,0L2,0M-0.7,-0.7L0.7,-0.7L0.7,0.7L-0.7,0.7Z'"},
       "fill": {"signal": "datum.value=='Data' ? '#9dcf3c' : datum.value=='Radiation' ? '#e5264f' : 'white'"},
       "fillOpacity": {"signal": "datum.value=='PWO' ? 0 : 1"},
       "stroke": {"signal": "datum.value=='Data' ? '#9dcf3c' : datum.value=='Radiation' ? '#e5264f' : '#3a42ab'"},
       "strokeWidth": {"value": 1.5}, "opacity": {"value": 1}}}}}}
   },
   "resolve": {"axis": {"x": "independent", "y": "independent"}},
   "layer": [
    {"transform": [{"filter": "datum.s=='Data'"}], "mark": {"type": "line", "clip": true, "strokeWidth": 1.5},
     "encoding": {
      "x": {"field": "r", "type": "quantitative", "scale": {"type": "log", "domain": [1, 30], "nice": false}, "axis": {"orient": "bottom", "values": [1,2,3,4,5,6,7,8,9,10,20,30], "labelExpr": "datum.value==1?'10⁰':datum.value==10?'10¹':''", "tickSize": {"condition": {"test": "datum.value==1||datum.value==10", "value": -8}, "value": -4}, "labelPadding": 10, "title": "Distance (km), 𝑟", "titlePadding": -2}},
      "y": {"field": "p", "type": "quantitative", "scale": {"type": "log", "domain": [0.0001, 1], "nice": false}, "axis": {"orient": "left", "values": [0.0001,0.0002,0.0003,0.0004,0.0005,0.0006,0.0007,0.0008,0.0009,0.001,0.002,0.003,0.004,0.005,0.006,0.007,0.008,0.009,0.01,0.02,0.03,0.04,0.05,0.06,0.07,0.08,0.09,0.1,0.2,0.3,0.4,0.5,0.6,0.7,0.8,0.9,1], "labelExpr": "datum.value==1?'10⁰':datum.value==0.1?'10⁻¹':datum.value==0.01?'10⁻²':datum.value==0.001?'10⁻³':datum.value==0.0001?'10⁻⁴':''", "tickSize": {"condition": {"test": "datum.value==1||datum.value==0.1||datum.value==0.01||datum.value==0.001||datum.value==0.0001", "value": -8}, "value": -4}, "labelPadding": 16, "title": "𝑃dist(𝑟)", "titlePadding": 8}}
     }},
    {"transform": [{"filter": "datum.s=='Data'"}], "mark": {"type": "point", "clip": true, "filled": true, "shape": "circle", "size": 90, "opacity": 1},
     "encoding": {
      "x": {"field": "r", "type": "quantitative", "scale": {"type": "log", "domain": [1, 30], "nice": false}, "axis": {"orient": "top", "values": [1,2,3,4,5,6,7,8,9,10,20,30], "labels": false, "title": null, "tickSize": {"condition": {"test": "datum.value==1||datum.value==10", "value": -8}, "value": -4}}},
      "y": {"field": "p", "type": "quantitative", "scale": {"type": "log", "domain": [0.0001, 1], "nice": false}, "axis": {"orient": "right", "values": [0.0001,0.0002,0.0003,0.0004,0.0005,0.0006,0.0007,0.0008,0.0009,0.001,0.002,0.003,0.004,0.005,0.006,0.007,0.008,0.009,0.01,0.02,0.03,0.04,0.05,0.06,0.07,0.08,0.09,0.1,0.2,0.3,0.4,0.5,0.6,0.7,0.8,0.9,1], "labels": false, "title": null, "tickSize": {"condition": {"test": "datum.value==1||datum.value==0.1||datum.value==0.01||datum.value==0.001||datum.value==0.0001", "value": -8}, "value": -4}}}
     }},
    {"transform": [{"filter": "datum.s=='Radiation'"}], "mark": {"type": "line", "clip": true, "strokeWidth": 1.5}},
    {"transform": [{"filter": "datum.s=='Radiation'"}], "mark": {"type": "point", "clip": true, "filled": true, "shape": "triangle-up", "size": 110, "opacity": 1}},
    {"transform": [{"filter": "datum.s=='PWO'"}], "mark": {"type": "line", "clip": true, "strokeWidth": 1.5}},
    {"transform": [{"filter": "datum.s=='PWO'"}], "mark": {"type": "point", "clip": true, "filled": false, "shape": "square", "size": 100, "opacity": 0.9, "strokeWidth": 1.3}}
   ]
  },
  {"width": 235, "height": 228, "data": {"name": "D"}, "title": {"text": "D"},
   "encoding": {
    "x": {"field": "r", "type": "quantitative", "scale": {"type": "log", "domain": [1, 30], "nice": false}, "axis": null},
    "y": {"field": "p", "type": "quantitative", "scale": {"type": "log", "domain": [0.00001, 1], "nice": false}, "axis": null},
    "color": {"field": "s", "type": "nominal", "scale": {"domain": ["Data", "Radiation", "PWO"], "range": ["#9dcf3c", "#e5264f", "#3a42ab"]},
     "legend": {"encode": {"symbols": {"update": {
       "shape": {"signal": "datum.value=='Data' ? 'M-2,0L2,0M0.78,0A0.78,0.78,0,1,1,-0.78,0A0.78,0.78,0,1,1,0.78,0Z' : datum.value=='Radiation' ? 'M-2,0L2,0M0,-0.9L0.85,0.6L-0.85,0.6Z' : 'M-2,0L-0.7,0M0.7,0L2,0M-0.7,-0.7L0.7,-0.7L0.7,0.7L-0.7,0.7Z'"},
       "fill": {"signal": "datum.value=='Data' ? '#9dcf3c' : datum.value=='Radiation' ? '#e5264f' : 'white'"},
       "fillOpacity": {"signal": "datum.value=='PWO' ? 0 : 1"},
       "stroke": {"signal": "datum.value=='Data' ? '#9dcf3c' : datum.value=='Radiation' ? '#e5264f' : '#3a42ab'"},
       "strokeWidth": {"value": 1.5}, "opacity": {"value": 1}}}}}}
   },
   "resolve": {"axis": {"x": "independent", "y": "independent"}},
   "layer": [
    {"transform": [{"filter": "datum.s=='Data'"}], "mark": {"type": "line", "clip": true, "strokeWidth": 1.5},
     "encoding": {
      "x": {"field": "r", "type": "quantitative", "scale": {"type": "log", "domain": [1, 30], "nice": false}, "axis": {"orient": "bottom", "values": [1,2,3,4,5,6,7,8,9,10,20,30], "labelExpr": "datum.value==1?'10⁰':datum.value==10?'10¹':''", "tickSize": {"condition": {"test": "datum.value==1||datum.value==10", "value": -8}, "value": -4}, "labelPadding": 10, "title": "Distance (km), 𝑟", "titlePadding": -2}},
      "y": {"field": "p", "type": "quantitative", "scale": {"type": "log", "domain": [0.00001, 1], "nice": false}, "axis": {"orient": "left", "values": [0.00001,0.00002,0.00003,0.00004,0.00005,0.00006,0.00007,0.00008,0.00009,0.0001,0.0002,0.0003,0.0004,0.0005,0.0006,0.0007,0.0008,0.0009,0.001,0.002,0.003,0.004,0.005,0.006,0.007,0.008,0.009,0.01,0.02,0.03,0.04,0.05,0.06,0.07,0.08,0.09,0.1,0.2,0.3,0.4,0.5,0.6,0.7,0.8,0.9,1], "labelExpr": "datum.value==1?'10⁰':datum.value==0.1?'10⁻¹':datum.value==0.01?'10⁻²':datum.value==0.001?'10⁻³':datum.value==0.0001?'10⁻⁴':datum.value==0.00001?'10⁻⁵':''", "tickSize": {"condition": {"test": "datum.value==1||datum.value==0.1||datum.value==0.01||datum.value==0.001||datum.value==0.0001||datum.value==0.00001", "value": -8}, "value": -4}, "labelPadding": 16, "title": "𝑃dist(𝑟)", "titlePadding": 8}}
     }},
    {"transform": [{"filter": "datum.s=='Data'"}], "mark": {"type": "point", "clip": true, "filled": true, "shape": "circle", "size": 90, "opacity": 1},
     "encoding": {
      "x": {"field": "r", "type": "quantitative", "scale": {"type": "log", "domain": [1, 30], "nice": false}, "axis": {"orient": "top", "values": [1,2,3,4,5,6,7,8,9,10,20,30], "labels": false, "title": null, "tickSize": {"condition": {"test": "datum.value==1||datum.value==10", "value": -8}, "value": -4}}},
      "y": {"field": "p", "type": "quantitative", "scale": {"type": "log", "domain": [0.00001, 1], "nice": false}, "axis": {"orient": "right", "values": [0.00001,0.00002,0.00003,0.00004,0.00005,0.00006,0.00007,0.00008,0.00009,0.0001,0.0002,0.0003,0.0004,0.0005,0.0006,0.0007,0.0008,0.0009,0.001,0.002,0.003,0.004,0.005,0.006,0.007,0.008,0.009,0.01,0.02,0.03,0.04,0.05,0.06,0.07,0.08,0.09,0.1,0.2,0.3,0.4,0.5,0.6,0.7,0.8,0.9,1], "labels": false, "title": null, "tickSize": {"condition": {"test": "datum.value==1||datum.value==0.1||datum.value==0.01||datum.value==0.001||datum.value==0.0001||datum.value==0.00001", "value": -8}, "value": -4}}}
     }},
    {"transform": [{"filter": "datum.s=='Radiation'"}], "mark": {"type": "line", "clip": true, "strokeWidth": 1.5}},
    {"transform": [{"filter": "datum.s=='Radiation'"}], "mark": {"type": "point", "clip": true, "filled": true, "shape": "triangle-up", "size": 110, "opacity": 1}},
    {"transform": [{"filter": "datum.s=='PWO'"}], "mark": {"type": "line", "clip": true, "strokeWidth": 1.5}},
    {"transform": [{"filter": "datum.s=='PWO'"}], "mark": {"type": "point", "clip": true, "filled": false, "shape": "square", "size": 100, "opacity": 0.9, "strokeWidth": 1.3}}
   ]
  }
 ], "spacing": 94, "bounds": "flush", "resolve": {"scale": {"color": "independent", "x": "independent", "y": "independent"}, "legend": {"color": "independent"}}},
 {"hconcat": [
  {"width": 235, "height": 228, "data": {"name": "E"}, "title": {"text": "E"},
   "encoding": {
    "x": {"field": "r", "type": "quantitative", "scale": {"type": "log", "domain": [1, 52], "nice": false}, "axis": null},
    "y": {"field": "p", "type": "quantitative", "scale": {"type": "log", "domain": [0.0001, 1], "nice": false}, "axis": null},
    "color": {"field": "s", "type": "nominal", "scale": {"domain": ["Data", "Radiation", "PWO"], "range": ["#9dcf3c", "#e5264f", "#3a42ab"]},
     "legend": {"encode": {"symbols": {"update": {
       "shape": {"signal": "datum.value=='Data' ? 'M-2,0L2,0M0.78,0A0.78,0.78,0,1,1,-0.78,0A0.78,0.78,0,1,1,0.78,0Z' : datum.value=='Radiation' ? 'M-2,0L2,0M0,-0.9L0.85,0.6L-0.85,0.6Z' : 'M-2,0L-0.7,0M0.7,0L2,0M-0.7,-0.7L0.7,-0.7L0.7,0.7L-0.7,0.7Z'"},
       "fill": {"signal": "datum.value=='Data' ? '#9dcf3c' : datum.value=='Radiation' ? '#e5264f' : 'white'"},
       "fillOpacity": {"signal": "datum.value=='PWO' ? 0 : 1"},
       "stroke": {"signal": "datum.value=='Data' ? '#9dcf3c' : datum.value=='Radiation' ? '#e5264f' : '#3a42ab'"},
       "strokeWidth": {"value": 1.5}, "opacity": {"value": 1}}}}}}
   },
   "resolve": {"axis": {"x": "independent", "y": "independent"}},
   "layer": [
    {"transform": [{"filter": "datum.s=='Data'"}], "mark": {"type": "line", "clip": true, "strokeWidth": 1.5},
     "encoding": {
      "x": {"field": "r", "type": "quantitative", "scale": {"type": "log", "domain": [1, 52], "nice": false}, "axis": {"orient": "bottom", "values": [1,2,3,4,5,6,7,8,9,10,20,30,40,50], "labelExpr": "datum.value==1?'10⁰':datum.value==10?'10¹':''", "tickSize": {"condition": {"test": "datum.value==1||datum.value==10", "value": -8}, "value": -4}, "labelPadding": 10, "title": "Distance (km), 𝑟", "titlePadding": -2}},
      "y": {"field": "p", "type": "quantitative", "scale": {"type": "log", "domain": [0.0001, 1], "nice": false}, "axis": {"orient": "left", "values": [0.0001,0.0002,0.0003,0.0004,0.0005,0.0006,0.0007,0.0008,0.0009,0.001,0.002,0.003,0.004,0.005,0.006,0.007,0.008,0.009,0.01,0.02,0.03,0.04,0.05,0.06,0.07,0.08,0.09,0.1,0.2,0.3,0.4,0.5,0.6,0.7,0.8,0.9,1], "labelExpr": "datum.value==1?'10⁰':datum.value==0.1?'10⁻¹':datum.value==0.01?'10⁻²':datum.value==0.001?'10⁻³':datum.value==0.0001?'10⁻⁴':''", "tickSize": {"condition": {"test": "datum.value==1||datum.value==0.1||datum.value==0.01||datum.value==0.001||datum.value==0.0001", "value": -8}, "value": -4}, "labelPadding": 16, "title": "𝑃dist(𝑟)", "titlePadding": 8}}
     }},
    {"transform": [{"filter": "datum.s=='Data'"}], "mark": {"type": "point", "clip": true, "filled": true, "shape": "circle", "size": 90, "opacity": 1},
     "encoding": {
      "x": {"field": "r", "type": "quantitative", "scale": {"type": "log", "domain": [1, 52], "nice": false}, "axis": {"orient": "top", "values": [1,2,3,4,5,6,7,8,9,10,20,30,40,50], "labels": false, "title": null, "tickSize": {"condition": {"test": "datum.value==1||datum.value==10", "value": -8}, "value": -4}}},
      "y": {"field": "p", "type": "quantitative", "scale": {"type": "log", "domain": [0.0001, 1], "nice": false}, "axis": {"orient": "right", "values": [0.0001,0.0002,0.0003,0.0004,0.0005,0.0006,0.0007,0.0008,0.0009,0.001,0.002,0.003,0.004,0.005,0.006,0.007,0.008,0.009,0.01,0.02,0.03,0.04,0.05,0.06,0.07,0.08,0.09,0.1,0.2,0.3,0.4,0.5,0.6,0.7,0.8,0.9,1], "labels": false, "title": null, "tickSize": {"condition": {"test": "datum.value==1||datum.value==0.1||datum.value==0.01||datum.value==0.001||datum.value==0.0001", "value": -8}, "value": -4}}}
     }},
    {"transform": [{"filter": "datum.s=='Radiation'"}], "mark": {"type": "line", "clip": true, "strokeWidth": 1.5}},
    {"transform": [{"filter": "datum.s=='Radiation'"}], "mark": {"type": "point", "clip": true, "filled": true, "shape": "triangle-up", "size": 110, "opacity": 1}},
    {"transform": [{"filter": "datum.s=='PWO'"}], "mark": {"type": "line", "clip": true, "strokeWidth": 1.5}},
    {"transform": [{"filter": "datum.s=='PWO'"}], "mark": {"type": "point", "clip": true, "filled": false, "shape": "square", "size": 100, "opacity": 0.9, "strokeWidth": 1.3}}
   ]
  },
  {"width": 235, "height": 228, "data": {"name": "F"}, "title": {"text": "F"},
   "encoding": {
    "x": {"field": "r", "type": "quantitative", "scale": {"type": "log", "domain": [1, 40], "nice": false}, "axis": null},
    "y": {"field": "p", "type": "quantitative", "scale": {"type": "log", "domain": [0.00001, 1], "nice": false}, "axis": null},
    "color": {"field": "s", "type": "nominal", "scale": {"domain": ["Data", "Radiation", "PWO"], "range": ["#9dcf3c", "#e5264f", "#3a42ab"]},
     "legend": {"encode": {"symbols": {"update": {
       "shape": {"signal": "datum.value=='Data' ? 'M-2,0L2,0M0.78,0A0.78,0.78,0,1,1,-0.78,0A0.78,0.78,0,1,1,0.78,0Z' : datum.value=='Radiation' ? 'M-2,0L2,0M0,-0.9L0.85,0.6L-0.85,0.6Z' : 'M-2,0L-0.7,0M0.7,0L2,0M-0.7,-0.7L0.7,-0.7L0.7,0.7L-0.7,0.7Z'"},
       "fill": {"signal": "datum.value=='Data' ? '#9dcf3c' : datum.value=='Radiation' ? '#e5264f' : 'white'"},
       "fillOpacity": {"signal": "datum.value=='PWO' ? 0 : 1"},
       "stroke": {"signal": "datum.value=='Data' ? '#9dcf3c' : datum.value=='Radiation' ? '#e5264f' : '#3a42ab'"},
       "strokeWidth": {"value": 1.5}, "opacity": {"value": 1}}}}}}
   },
   "resolve": {"axis": {"x": "independent", "y": "independent"}},
   "layer": [
    {"transform": [{"filter": "datum.s=='Data'"}], "mark": {"type": "line", "clip": true, "strokeWidth": 1.5},
     "encoding": {
      "x": {"field": "r", "type": "quantitative", "scale": {"type": "log", "domain": [1, 40], "nice": false}, "axis": {"orient": "bottom", "values": [1,2,3,4,5,6,7,8,9,10,20,30,40], "labelExpr": "datum.value==1?'10⁰':datum.value==10?'10¹':''", "tickSize": {"condition": {"test": "datum.value==1||datum.value==10", "value": -8}, "value": -4}, "labelPadding": 10, "title": "Distance (km), 𝑟", "titlePadding": -2}},
      "y": {"field": "p", "type": "quantitative", "scale": {"type": "log", "domain": [0.00001, 1], "nice": false}, "axis": {"orient": "left", "values": [0.00001,0.00002,0.00003,0.00004,0.00005,0.00006,0.00007,0.00008,0.00009,0.0001,0.0002,0.0003,0.0004,0.0005,0.0006,0.0007,0.0008,0.0009,0.001,0.002,0.003,0.004,0.005,0.006,0.007,0.008,0.009,0.01,0.02,0.03,0.04,0.05,0.06,0.07,0.08,0.09,0.1,0.2,0.3,0.4,0.5,0.6,0.7,0.8,0.9,1], "labelExpr": "datum.value==1?'10⁰':datum.value==0.1?'10⁻¹':datum.value==0.01?'10⁻²':datum.value==0.001?'10⁻³':datum.value==0.0001?'10⁻⁴':datum.value==0.00001?'10⁻⁵':''", "tickSize": {"condition": {"test": "datum.value==1||datum.value==0.1||datum.value==0.01||datum.value==0.001||datum.value==0.0001||datum.value==0.00001", "value": -8}, "value": -4}, "labelPadding": 16, "title": "𝑃dist(𝑟)", "titlePadding": 8}}
     }},
    {"transform": [{"filter": "datum.s=='Data'"}], "mark": {"type": "point", "clip": true, "filled": true, "shape": "circle", "size": 90, "opacity": 1},
     "encoding": {
      "x": {"field": "r", "type": "quantitative", "scale": {"type": "log", "domain": [1, 40], "nice": false}, "axis": {"orient": "top", "values": [1,2,3,4,5,6,7,8,9,10,20,30,40], "labels": false, "title": null, "tickSize": {"condition": {"test": "datum.value==1||datum.value==10", "value": -8}, "value": -4}}},
      "y": {"field": "p", "type": "quantitative", "scale": {"type": "log", "domain": [0.00001, 1], "nice": false}, "axis": {"orient": "right", "values": [0.00001,0.00002,0.00003,0.00004,0.00005,0.00006,0.00007,0.00008,0.00009,0.0001,0.0002,0.0003,0.0004,0.0005,0.0006,0.0007,0.0008,0.0009,0.001,0.002,0.003,0.004,0.005,0.006,0.007,0.008,0.009,0.01,0.02,0.03,0.04,0.05,0.06,0.07,0.08,0.09,0.1,0.2,0.3,0.4,0.5,0.6,0.7,0.8,0.9,1], "labels": false, "title": null, "tickSize": {"condition": {"test": "datum.value==1||datum.value==0.1||datum.value==0.01||datum.value==0.001||datum.value==0.0001||datum.value==0.00001", "value": -8}, "value": -4}}}
     }},
    {"transform": [{"filter": "datum.s=='Radiation'"}], "mark": {"type": "line", "clip": true, "strokeWidth": 1.5}},
    {"transform": [{"filter": "datum.s=='Radiation'"}], "mark": {"type": "point", "clip": true, "filled": true, "shape": "triangle-up", "size": 110, "opacity": 1}},
    {"transform": [{"filter": "datum.s=='PWO'"}], "mark": {"type": "line", "clip": true, "strokeWidth": 1.5}},
    {"transform": [{"filter": "datum.s=='PWO'"}], "mark": {"type": "point", "clip": true, "filled": false, "shape": "square", "size": 100, "opacity": 0.9, "strokeWidth": 1.3}}
   ]
  }
 ], "spacing": 94, "bounds": "flush", "resolve": {"scale": {"color": "independent", "x": "independent", "y": "independent"}, "legend": {"color": "independent"}}}
]
}
